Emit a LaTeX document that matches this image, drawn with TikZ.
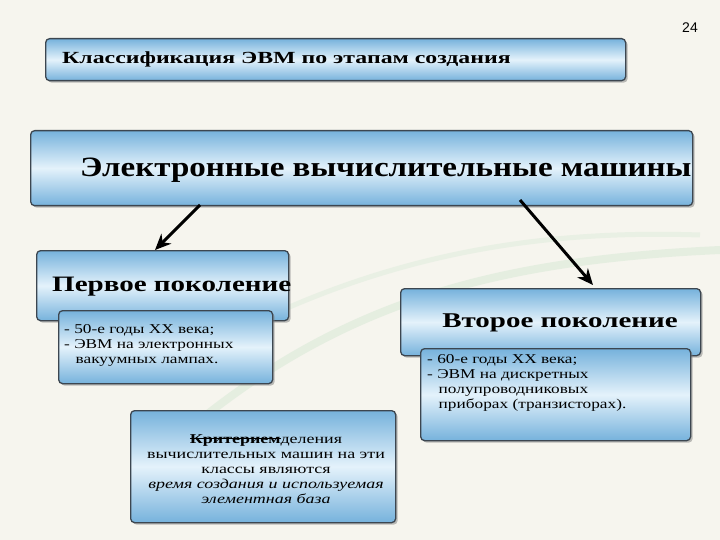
\documentclass[tikz,border=0pt]{standalone}
\usepackage{fontspec}
\usepackage{graphicx}
\setmainfont{Liberation Serif}
\setsansfont{Liberation Sans}
\usetikzlibrary{shadows,arrows.meta}
\newcommand\mystrike[1]{\setbox0\hbox{#1}\rlap{\rule[0.3em]{\wd0}{0.9pt}}\box0}
\newcommand\wide[2]{\scalebox{#1}[1]{#2}}
\definecolor{bg}{RGB}{246,245,238}
\definecolor{bluebox}{RGB}{118,178,220}
\definecolor{bluemid}{RGB}{228,242,251}
\definecolor{edge}{RGB}{60,70,80}
\tikzset{
  box/.style={draw=edge, line width=1.3pt, rounded corners=4pt,
    top color=bluebox, bottom color=bluebox, middle color=bluemid,
    drop shadow={shadow xshift=2pt, shadow yshift=-2pt, opacity=0.5}},
  arr/.style={line width=3pt, -{Stealth[length=16pt,width=14pt]}},
  txt/.style={inner sep=0pt, font=\bfseries}
}
\begin{document}
\begin{tikzpicture}[x=1pt,y=-1pt]
\fill[bg] (0,0) rectangle (720,540);
\useasboundingbox (0,0) rectangle (720,540);
\draw[green!30!gray!30, line width=8pt, opacity=0.4] (200,420) .. controls (350,300) and (500,260) .. (720,250);
\draw[green!30!gray!25, line width=5pt, opacity=0.4] (240,330) .. controls (400,250) and (550,230) .. (700,235);
\node[font=\sffamily\fontsize{14}{16}\selectfont] (num) at (690,28) {24};
\node[box, minimum width=580pt, minimum height=42pt, anchor=north west] (title) at (45,38) {};
\node[txt, anchor=west, font=\bfseries\fontsize{17}{18}\selectfont] (titlet) at (62,59) {\wide{1.4}{Классификация ЭВМ по этапам создания}};
\node[box, minimum width=662pt, minimum height=75pt, anchor=north west] (main) at (30,130) {};
\node[txt, anchor=west, font=\bfseries\fontsize{28}{30}\selectfont] (maint) at (80,170) {\wide{1.18}{Электронные вычислительные машины}};
\node[box, minimum width=252pt, minimum height=70pt, anchor=north west] (g1) at (36,250) {};
\node[txt, anchor=west, font=\bfseries\fontsize{22}{24}\selectfont] (g1t) at (52,287) {\wide{1.32}{Первое поколение}};
\node[box, minimum width=214pt, minimum height=73pt, anchor=north west] (g1s) at (58,310) {};
\node[anchor=north west, inner sep=0pt, font=\fontsize{13.5}{15}\selectfont] (g1st) at (64,323) {\wide{1.28}{\begin{tabular}{@{}l@{}}- 50-е годы XX века;\\- ЭВМ на электронных\\\hspace*{9pt}вакуумных лампах.\end{tabular}}};
\node[box, minimum width=300pt, minimum height=67pt, anchor=north west] (g2) at (400,288) {};
\node[txt, font=\bfseries\fontsize{21}{24}\selectfont] (g2t) at (560,323) {\wide{1.38}{Второе поколение}};
\node[box, minimum width=270pt, minimum height=92pt, anchor=north west] (g2s) at (420,348) {};
\node[anchor=north west, inner sep=0pt, font=\fontsize{13.5}{15}\selectfont] (g2st) at (427,353) {\wide{1.28}{\begin{tabular}{@{}l@{}}- 60-е годы XX века;\\- ЭВМ на дискретных\\\hspace*{9pt}полупроводниковых\\\hspace*{9pt}приборах (транзисторах).\end{tabular}}};
\node[box, minimum width=265pt, minimum height=112pt, anchor=north west] (crit) at (130,410) {};
\node[inner sep=0pt, font=\fontsize{13.5}{15}\selectfont] (critt) at (266,470) {\wide{1.33}{\begin{tabular}{@{}c@{}}\mystrike{\textbf{Критерием}}деления\\вычислительных машин на эти\\классы являются\\\textit{время создания и используемая}\\\textit{элементная база}\end{tabular}}};
\coordinate (a1) at (200,205);
\coordinate (a2) at (520,200);
\draw[arr] (a1) -- (155,250);
\draw[arr] (a2) -- (593,285);
\end{tikzpicture}
\end{document}
